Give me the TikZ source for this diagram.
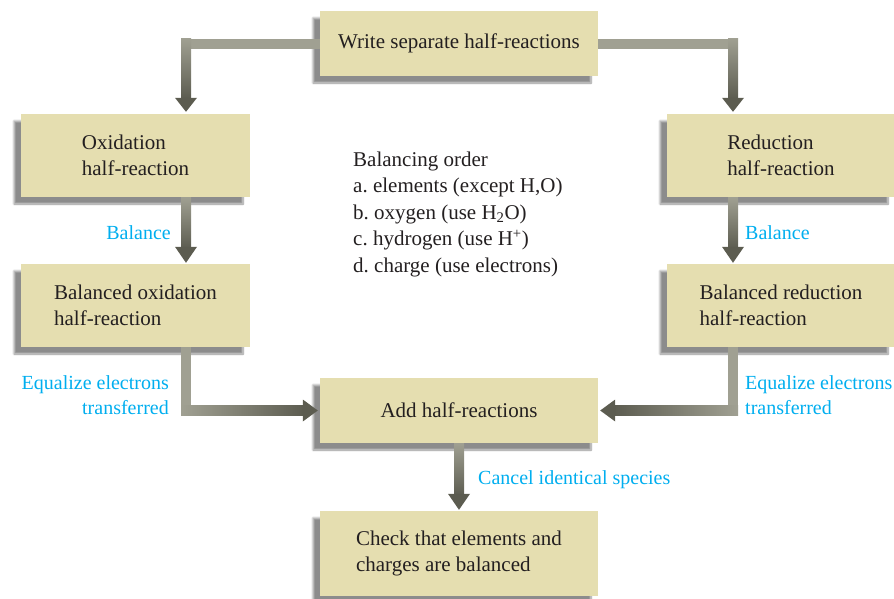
\documentclass[tikz,border=0pt]{standalone}
\usepackage{fontspec}
\setmainfont{Liberation Serif}
\usetikzlibrary{calc,shadows.blur}
\definecolor{boxfill}{RGB}{229,222,176}
\definecolor{alight}{RGB}{160,160,146}
\definecolor{adark}{RGB}{92,92,80}
\definecolor{lblue}{RGB}{0,174,239}
\definecolor{ink}{RGB}{35,31,32}
\frenchspacing
\begin{document}
\begin{tikzpicture}[x=1pt,y=-1pt,
 box/.style={fill=boxfill, inner sep=0pt, align=left, text=ink,
   font=\fontsize{21}{26.5}\selectfont,
   blur shadow={shadow xshift=-7pt, shadow yshift=-7pt, shadow opacity=45, shadow blur steps=8}},
 lbl/.style={text=lblue, font=\fontsize{20}{24.5}\selectfont, inner sep=0pt},
 bar/.style={draw=alight, line width=10pt},
 headc/.style={fill=adark}]
\useasboundingbox (0,0) rectangle (894,598);

% boxes
\node[box, minimum width=278pt, minimum height=65pt] (w) at (459,43.5) {Write separate half-reactions};
\node[box, minimum width=229pt, minimum height=83pt] (ox) at (135.5,155.5) {Oxidation\\half-reaction};
\node[box, minimum width=229pt, minimum height=83pt] (bo) at (135.5,305.5) {Balanced oxidation\\half-reaction};
\node[box, minimum width=228pt, minimum height=83pt] (re) at (781,155.5) {Reduction\\half-reaction};
\node[box, minimum width=228pt, minimum height=83pt] (br) at (781,305.5) {Balanced reduction\\half-reaction};
\node[box, minimum width=278pt, minimum height=65pt] (add) at (459,410.5) {Add half-reactions};
\node[box, minimum width=278pt, minimum height=85pt] (chk) at (459,553.5) {Check that elements and\\charges are balanced};

% balancing order text
\node[anchor=west, align=left, inner sep=0pt, text=ink, font=\fontsize{21}{26.5}\selectfont] (bal) at (353,214)
 {Balancing order\\a. elements (except H,O)\\b. oxygen (use H\textsubscript{2}O)\\c. hydrogen (use H\textsuperscript{+})\\d. charge (use electrons)};

% connector x positions
\coordinate (lx) at (186,0);
\coordinate (rx) at (733,0);
\coordinate (oxn) at (lx |- ox.north);
\coordinate (oxs) at (lx |- ox.south);
\coordinate (bon) at (lx |- bo.north);
\coordinate (bos) at (lx |- bo.south);
\coordinate (ren) at (rx |- re.north);
\coordinate (res) at (rx |- re.south);
\coordinate (brn) at (rx |- br.north);
\coordinate (brs) at (rx |- br.south);

% top-left connector
\coordinate (tl) at (lx |- w.west);
\draw[bar] (w.west) -- ($(tl)+(-5,0)$);
\shade[top color=alight, bottom color=adark] ($(tl)+(-5,-5)$) rectangle ($(oxn)+(5,-15)$);
\fill[headc] ($(oxn)+(-11,-16)$) -- ($(oxn)+(11,-16)$) -- ($(oxn)+(0,-2)$) -- cycle;

% top-right connector
\coordinate (tr) at (rx |- w.east);
\draw[bar] (w.east) -- ($(tr)+(5,0)$);
\shade[top color=alight, bottom color=adark] ($(tr)+(-5,-5)$) rectangle ($(ren)+(5,-15)$);
\fill[headc] ($(ren)+(-11,-16)$) -- ($(ren)+(11,-16)$) -- ($(ren)+(0,-2)$) -- cycle;

% oxidation -> balanced oxidation
\shade[top color=alight, bottom color=adark] ($(oxs)+(-5,0)$) rectangle ($(bon)+(5,-15)$);
\fill[headc] ($(bon)+(-11,-17)$) -- ($(bon)+(11,-17)$) -- ($(bon)+(0,-1)$) -- cycle;

% reduction -> balanced reduction
\shade[top color=alight, bottom color=adark] ($(res)+(-5,0)$) rectangle ($(brn)+(5,-15)$);
\fill[headc] ($(brn)+(-11,-17)$) -- ($(brn)+(11,-17)$) -- ($(brn)+(0,-1)$) -- cycle;

% balanced oxidation -> add
\coordinate (bl) at (lx |- add.west);
\draw[bar] (bos) -- ($(bl)+(0,5)$);
\shade[left color=alight, right color=adark] ($(bl)+(-5,-5)$) rectangle ($(add.west)+(-15,5)$);
\fill[headc] ($(add.west)+(-17,-11)$) -- ($(add.west)+(-17,11)$) -- ($(add.west)+(-2,0)$) -- cycle;

% balanced reduction -> add
\coordinate (brc) at (rx |- add.east);
\draw[bar] (brs) -- ($(brc)+(0,5)$);
\shade[left color=adark, right color=alight] ($(brc)+(5,-5)$) rectangle ($(add.east)+(15,5)$);
\fill[headc] ($(add.east)+(17,-11)$) -- ($(add.east)+(17,11)$) -- ($(add.east)+(2,0)$) -- cycle;

% add -> check
\shade[top color=alight, bottom color=adark] ($(add.south)+(-5,0)$) rectangle ($(chk.north)+(5,-15)$);
\fill[headc] ($(chk.north)+(-11,-17)$) -- ($(chk.north)+(11,-17)$) -- ($(chk.north)+(0,-1)$) -- cycle;

% labels
\node[lbl, anchor=east] (l1) at (171,233) {Balance};
\node[lbl, anchor=west] (l2) at (745,233) {Balance};
\node[lbl, anchor=east, align=right] (l3) at (169,395) {Equalize electrons\\transferred};
\node[lbl, anchor=west, align=left] (l4) at (745,395) {Equalize electrons\\transferred};
\node[lbl, anchor=west] (l5) at (478,480) {Cancel identical species};
\end{tikzpicture}
\end{document}
